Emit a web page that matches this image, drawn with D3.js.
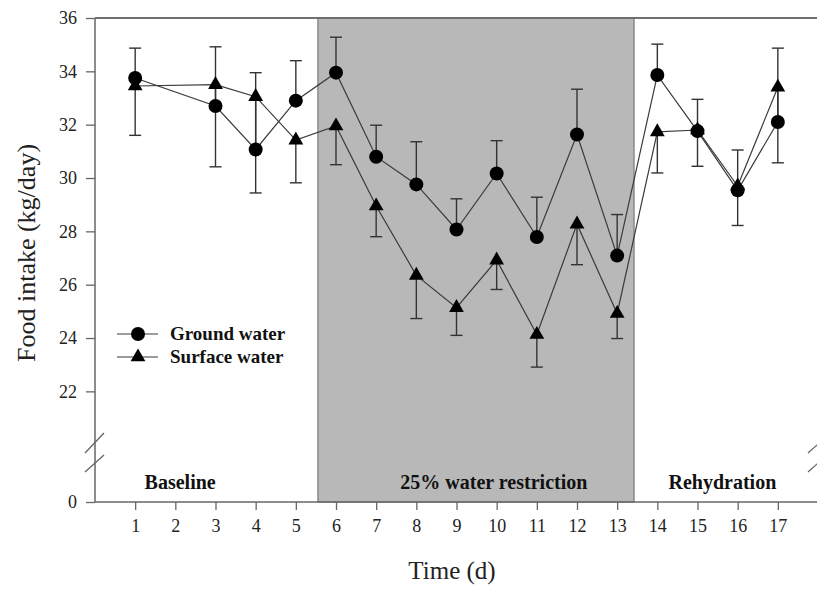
<!DOCTYPE html>
<html><head><meta charset="utf-8">
<script src="https://cdn.jsdelivr.net/npm/d3@7"></script>
<style>body{margin:0;background:#fff}svg{display:block}</style>
</head><body>
<script>
// ---- data ----
const days = [1,3,4,5,6,7,8,9,10,11,12,13,14,15,16,17];
const groundWater = [33.75,32.7,31.07,32.9,33.95,30.8,29.76,28.07,30.17,27.79,31.63,27.09,33.86,31.76,29.54,32.1];
const groundErrUp = [1.12,2.22,2.88,1.5,1.33,1.18,1.6,1.15,1.23,1.49,1.7,1.54,1.16,1.19,1.51,2.77];
const surfaceWater = [33.45,33.5,33.05,31.42,31.95,28.95,26.35,25.14,26.92,24.13,28.27,24.92,31.73,31.8,29.7,33.4];
const surfaceErrDown = [1.85,3.08,3.61,1.6,1.45,1.15,1.62,1.04,1.1,1.22,1.52,0.94,1.54,1.36,1.48,2.83];
const xTicks = [1,2,3,4,5,6,7,8,9,10,11,12,13,14,15,16,17];
const yTicks = [0,22,24,26,28,30,32,34,36];
const phaseLabels = ["Baseline","25% water restriction","Rehydration"];
const phaseStart = [0, 5.55, 13.42];
const phaseEnd = [5.55, 13.42, 18];
const phaseLabelX = [2.12, 9.93, 15.62];

const W = 817, H = 590;
const svg = d3.select("body").append("svg").attr("width",W).attr("height",H);
const font = "'Liberation Serif','Times New Roman',serif";

const x = d3.scaleLinear().domain([0,18]).range([95,818]);
const y = d3.scaleLinear().domain([0,20,36]).range([502,444.7,18]);

// shaded restriction band
svg.append("rect")
  .attr("x", x(phaseStart[1])).attr("y", y(36))
  .attr("width", x(phaseEnd[1])-x(phaseStart[1]))
  .attr("height", y(0)-y(36))
  .attr("fill","#b8b8b8").attr("stroke","#7a7a7a").attr("stroke-width",1.2);

// top frame line
svg.append("line").attr("x1",x(0)).attr("x2",W).attr("y1",y(36)).attr("y2",y(36))
  .attr("stroke","#6f6f6f").attr("stroke-width",2);

// axes
const yAxis = d3.axisLeft(y).tickValues(yTicks).tickSize(9).tickPadding(9).tickFormat(d3.format("d"));
const gy = svg.append("g").attr("transform",`translate(${x(0)},0)`).call(yAxis);
const xAxis = d3.axisBottom(x).tickValues(xTicks).tickSize(8).tickPadding(9).tickFormat(d3.format("d"));
const gx = svg.append("g").attr("transform",`translate(0,${y(0)})`).call(xAxis);
[gx,gy].forEach(g=>{
  g.select(".domain").attr("stroke","#666").attr("stroke-width",1.5);
  g.selectAll(".tick line").attr("stroke","#666").attr("stroke-width",1.3);
  g.selectAll(".tick text").attr("fill","#222").style("font-family",font).style("font-size","18px");
});
gx.select(".domain").attr("d",`M${x(0)},0H${W}`);
gy.select(".domain").attr("d",`M0,${y(0)}V${y(36)}`);

// axis break marks
const brk = svg.append("g").attr("stroke","#666").attr("stroke-width",1.3);
[[x(0)-10, 453, x(0)+9, 433],[x(0)-10, 472, x(0)+9, 455],
 [W-9, 453, W+9, 437],[W-9, 472, W+9, 456]].forEach(s=>{
  brk.append("line").attr("x1",s[0]).attr("y1",s[1]).attr("x2",s[2]).attr("y2",s[3]);
});

// lines
const line = d3.line().x(d=>x(d[0])).y(d=>y(d[1]));
const gData = days.map((d,i)=>[d,groundWater[i]]);
const sData = days.map((d,i)=>[d,surfaceWater[i]]);
svg.append("path").attr("d",line(gData)).attr("fill","none").attr("stroke","#3a3a3a").attr("stroke-width",1.2);
svg.append("path").attr("d",line(sData)).attr("fill","none").attr("stroke","#3a3a3a").attr("stroke-width",1.2);

// error bars
const eb = svg.append("g").attr("stroke","#333").attr("stroke-width",1.4);
const cap = 6;
days.forEach((d,i)=>{
  const cx = x(d);
  const top = groundWater[i]+groundErrUp[i];
  eb.append("line").attr("x1",cx).attr("x2",cx).attr("y1",y(groundWater[i])).attr("y2",y(top));
  eb.append("line").attr("x1",cx-cap).attr("x2",cx+cap).attr("y1",y(top)).attr("y2",y(top));
  const bot = surfaceWater[i]-surfaceErrDown[i];
  eb.append("line").attr("x1",cx).attr("x2",cx).attr("y1",y(surfaceWater[i])).attr("y2",y(bot));
  eb.append("line").attr("x1",cx-cap).attr("x2",cx+cap).attr("y1",y(bot)).attr("y2",y(bot));
});

// markers
const tri = d3.symbol().type(d3.symbolTriangle).size(95);
svg.append("g").selectAll("path").data(sData).join("path")
  .attr("d",tri).attr("transform",d=>`translate(${x(d[0])},${y(d[1])})`).attr("fill","#000");
svg.append("g").selectAll("circle").data(gData).join("circle")
  .attr("cx",d=>x(d[0])).attr("cy",d=>y(d[1])).attr("r",7).attr("fill","#000");

// phase labels
svg.append("g").selectAll("text").data(phaseLabels).join("text")
  .attr("x",(d,i)=>x(phaseLabelX[i])).attr("y",489)
  .attr("text-anchor","middle")
  .style("font-family",font).style("font-size","20px").style("font-weight","bold")
  .attr("fill","#111").text(d=>d);

// legend
const legend = [{label:"Ground water", sym:"circle", yy:334},{label:"Surface water", sym:"triangle", yy:357}];
const lg = svg.append("g");
legend.forEach(l=>{
  lg.append("line").attr("x1",117).attr("x2",158).attr("y1",l.yy).attr("y2",l.yy).attr("stroke","#3a3a3a").attr("stroke-width",1.2);
  if(l.sym==="circle") lg.append("circle").attr("cx",138).attr("cy",l.yy).attr("r",7).attr("fill","#000");
  else lg.append("path").attr("d",tri).attr("transform",`translate(138,${l.yy})`).attr("fill","#000");
  lg.append("text").attr("x",170).attr("y",l.yy+6).style("font-family",font).style("font-size","19px")
    .style("font-weight","bold").attr("fill","#111").text(l.label);
});

// axis titles
svg.append("text").attr("x",452).attr("y",579).attr("text-anchor","middle")
  .style("font-family",font).style("font-size","25px").attr("fill","#222").text("Time (d)");
svg.append("text").attr("transform","translate(35,253) rotate(-90)").attr("text-anchor","middle")
  .style("font-family",font).style("font-size","26px").attr("fill","#222").text("Food intake (kg/day)");
</script>
</body></html>
